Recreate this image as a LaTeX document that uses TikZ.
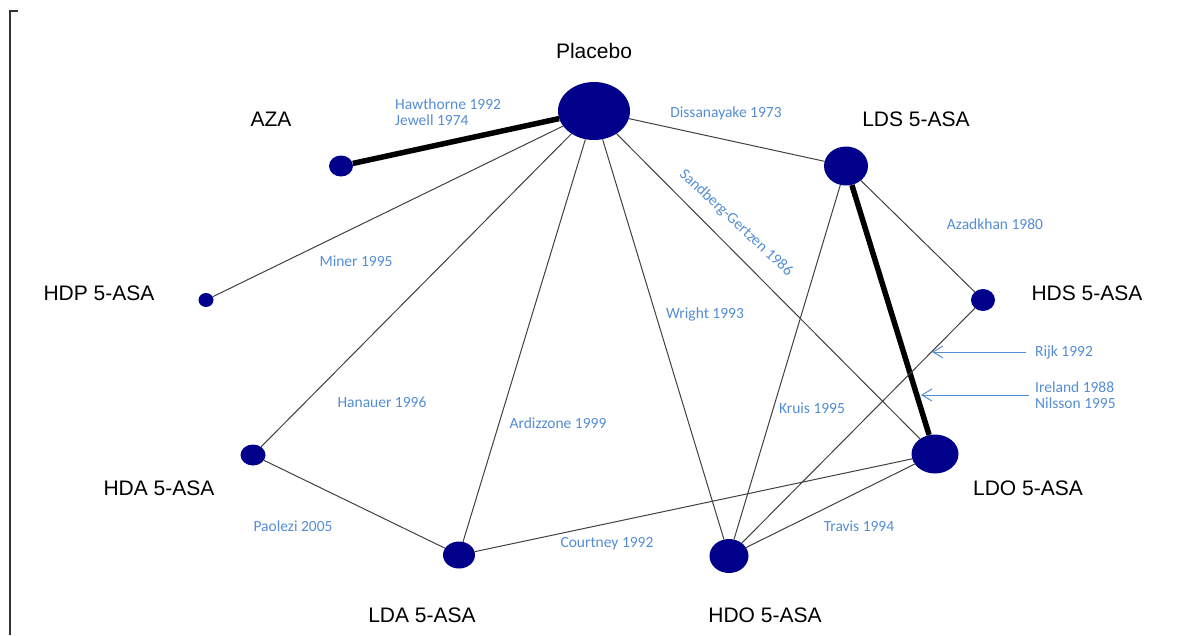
\documentclass[tikz,border=0pt]{standalone}
\usepackage{fontspec}
\setmainfont{Liberation Sans}
\newfontfamily\studyfont{Carlito}
\usetikzlibrary{shapes.geometric,arrows.meta}
\definecolor{dotblue}{RGB}{0,0,139}
\definecolor{studyblue}{RGB}{84,141,212}
\begin{document}
\begin{tikzpicture}[x=1pt,y=-1pt,
  trt/.style={ellipse,fill=dotblue,inner sep=0pt},
  lab/.style={font=\fontsize{21}{24}\selectfont,text=black,inner sep=0pt},
  study/.style={font=\studyfont\fontsize{15.5}{16.5}\selectfont,text=studyblue,inner sep=0pt},
  thinedge/.style={draw=black!75,line width=1pt},
  thickedge/.style={draw=black,line width=5.5pt},
  pointer/.style={draw=studyblue,line width=1pt,-{Straight Barb[length=10pt,width=12pt]}}]
\useasboundingbox (0,0) rectangle (1202,635);
% frame
\draw[black!80,line width=1.2pt] (18,11) -- (10,11) -- (10,635);

% treatments
\node[trt,minimum width=72pt,minimum height=58pt] (pla) at (594,111) {};
\node[trt,minimum width=24pt,minimum height=21pt] (aza) at (341,166) {};
\node[trt,minimum width=44pt,minimum height=39pt] (lds) at (846,166) {};
\node[trt,minimum width=24pt,minimum height=22pt] (hds) at (983,300) {};
\node[trt,minimum width=15pt,minimum height=14pt] (hdp) at (206,300) {};
\node[trt,minimum width=25pt,minimum height=21pt] (hda) at (253,455) {};
\node[trt,minimum width=32pt,minimum height=27pt] (lda) at (459,555) {};
\node[trt,minimum width=39pt,minimum height=34pt] (hdo) at (729,556) {};
\node[trt,minimum width=47pt,minimum height=39pt] (ldo) at (935,454) {};

% comparisons
\draw[thickedge] (pla) -- (aza);
\draw[thickedge] (lds) -- (ldo);
\foreach \a/\b in {pla/lds,pla/hdp,pla/hda,pla/lda,pla/hdo,pla/ldo,
                   lds/hds,lds/hdo,hds/hdo,hda/lda,lda/ldo,hdo/ldo}{
  \draw[thinedge] (\a) -- (\b);
}

% treatment names
\node[lab] (plalab) at (594,51) {Placebo};
\node[lab] (azalab) at (271,119) {AZA};
\node[lab] (ldslab) at (916,119) {LDS 5-ASA};
\node[lab] (hdslab) at (1087,293) {HDS 5-ASA};
\node[lab] (hdplab) at (99,293) {HDP 5-ASA};
\node[lab] (hdalab) at (159,488) {HDA 5-ASA};
\node[lab] (ldalab) at (422,615) {LDA 5-ASA};
\node[lab] (hdolab) at (765,615) {HDO 5-ASA};
\node[lab] (ldolab) at (1028,488) {LDO 5-ASA};

% trials
\node[study,anchor=west,align=left] (hawthorne) at (395,112) {Hawthorne 1992\\Jewell 1974};
\node[study] (dissanayake) at (726,113) {Dissanayake 1973};
\node[study,rotate=-43] (sandberg) at (736,223) {Sandberg-Gertzen 1986};
\node[study] (azadkhan) at (995,224) {Azadkhan 1980};
\node[study] (miner) at (356,261) {Miner 1995};
\node[study] (wright) at (705,314) {Wright 1993};
\node[study,anchor=west] (rijk) at (1035,352) {Rijk 1992};
\node[study,anchor=west,align=left] (ireland) at (1035,395) {Ireland 1988\\Nilsson 1995};
\node[study] (hanauer) at (382,402) {Hanauer 1996};
\node[study] (ardizzone) at (558,423) {Ardizzone 1999};
\node[study] (kruis) at (812,408) {Kruis 1995};
\node[study] (paolezi) at (293,526) {Paolezi 2005};
\node[study] (courtney) at (607,544) {Courtney 1992};
\node[study] (travis) at (859,526) {Travis 1994};

% pointers
\coordinate (rijktip) at (932,352);
\coordinate (irelandtip) at (921,395);
\draw[pointer] ([xshift=-9pt]rijk.west) -- (rijktip);
\draw[pointer] ([xshift=-6pt]ireland.west) -- (irelandtip);
\end{tikzpicture}
\end{document}
